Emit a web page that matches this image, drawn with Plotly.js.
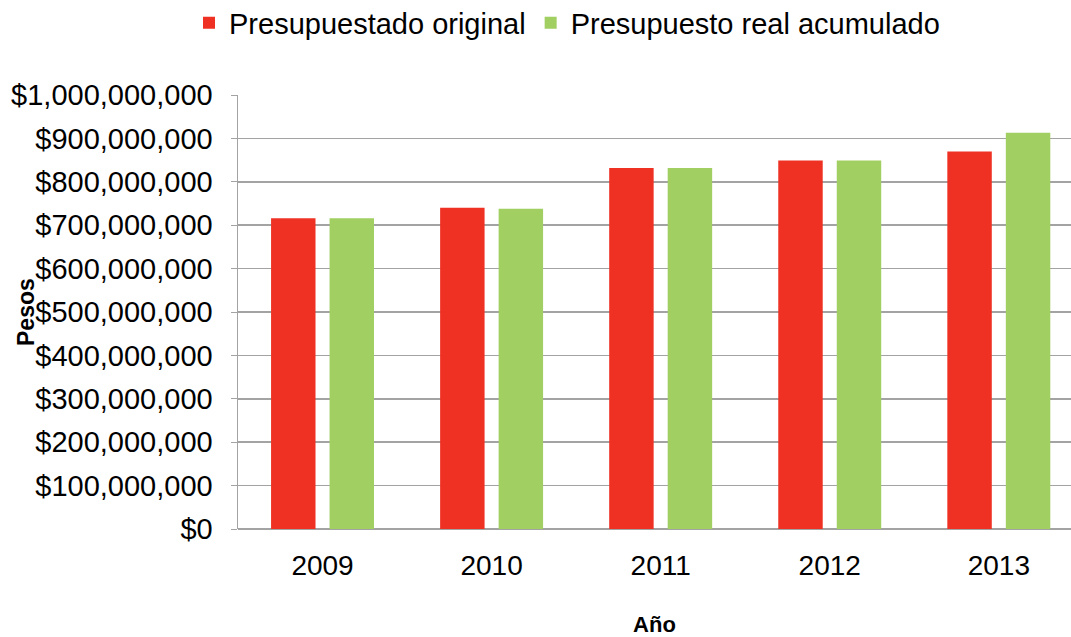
<!DOCTYPE html>
<html>
<head>
<meta charset="utf-8">
<script src="https://cdn.plot.ly/plotly-3.0.1.min.js"></script>
<style>
	html, body { margin: 0; padding: 0; background: #ffffff; }
	#chart { width: 1071px; height: 637px; }
</style>
</head>
<body>
<div id="chart"></div>
<script>
	// años y montos (pesos)
	var years = ['2009', '2010', '2011', '2012', '2013'];
	var presupuestoOriginal = [716000000, 740000000, 832000000, 849000000, 870000000];
	var presupuestoReal = [716000000, 738000000, 832000000, 849000000, 913000000];

	var original = {
		x : years,
		y : presupuestoOriginal,
		type : 'bar',
		name : 'Presupuestado original',
		marker : {
			color : '#EF3124'
		}
	};

	var real = {
		x : years,
		y : presupuestoReal,
		type : 'bar',
		name : 'Presupuesto real acumulado',
		marker : {
			color : '#A1CF62'
		}
	};

	var data = [original, real];

	var layout = {
		width : 1071,
		height : 637,
		font : {
			family : 'Liberation Sans, Arial, sans-serif',
			color : 'black'
		},
		paper_bgcolor : 'white',
		plot_bgcolor : 'white',
		margin : {
			l : 238,
			r : 0,
			t : 95,
			b : 108
		},
		barmode : 'group',
		bargap : 0.308,
		bargroupgap : 0.24,
		showlegend : true,
		legend : {
			orientation : 'h',
			xref : 'container',
			x : 189 / 1071,
			xanchor : 'left',
			yref : 'container',
			y : 1 - 23 / 637,
			yanchor : 'middle',
			itemclick : false,
			font : {
				size : 29
			}
		},
		xaxis : {
			type : 'category',
			range : [-0.5, 4.427],
			showgrid : false,
			zeroline : false,
			showline : false,
			ticks : '',
			ticklabelstandoff : 17,
			tickfont : {
				size : 28
			},
			title : {
				text : '<b>Año</b>',
				font : {
					size : 22
				},
				standoff : 36
			}
		},
		yaxis : {
			range : [0, 1000000000],
			dtick : 100000000,
			tickprefix : '$',
			tickformat : ',d',
			showgrid : true,
			gridcolor : '#a3a3a3',
			gridwidth : 1.5,
			zeroline : true,
			zerolinecolor : '#a3a3a3',
			zerolinewidth : 1.5,
			showline : true,
			linecolor : '#a3a3a3',
			linewidth : 1.5,
			ticks : 'outside',
			ticklen : 6,
			tickcolor : '#a3a3a3',
			ticklabelstandoff : 12,
			tickfont : {
				size : 29
			}
		},
		annotations : [{
			text : '<b>Pesos</b>',
			xref : 'paper',
			yref : 'paper',
			x : (26 - 238) / 833,
			y : 0.5,
			xanchor : 'center',
			yanchor : 'middle',
			textangle : -90,
			showarrow : false,
			font : {
				size : 23
			}
		}]
	};

	var config = {
		displayModeBar: false,
		staticPlot: true
	};
	var container = document.getElementById('chart');
	Plotly.newPlot(container, data, layout, config);
</script>
</body>
</html>
